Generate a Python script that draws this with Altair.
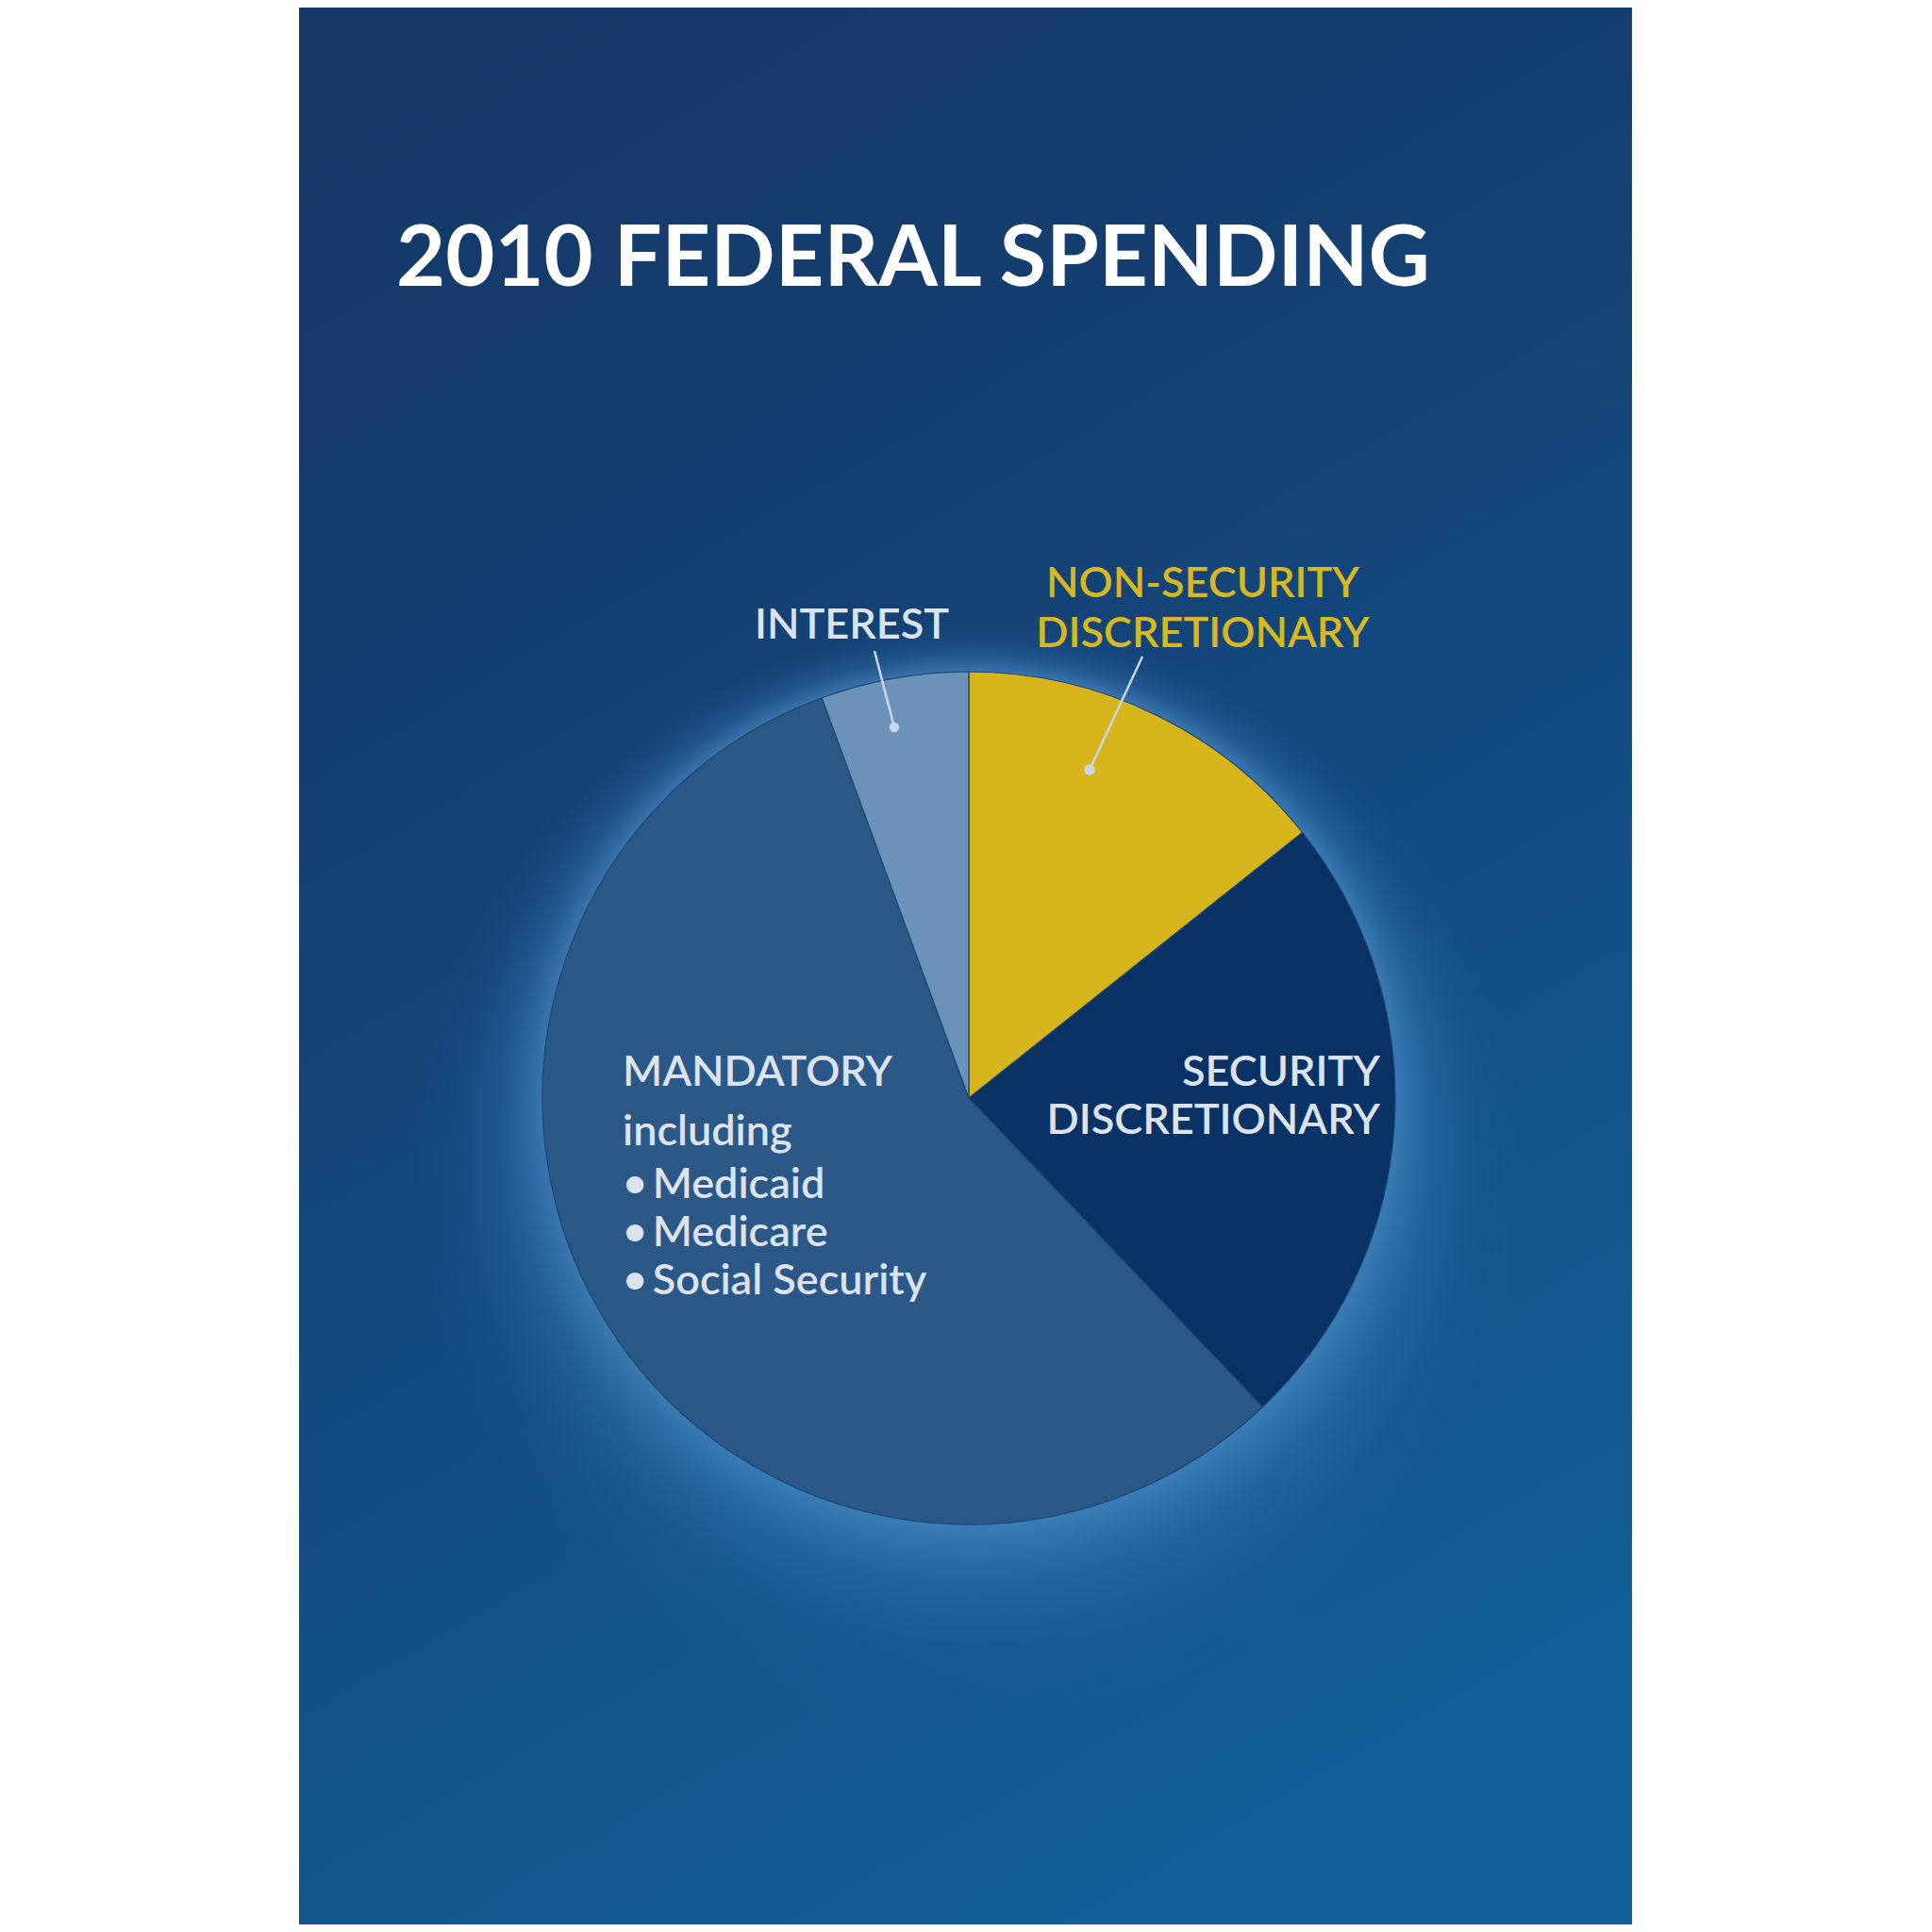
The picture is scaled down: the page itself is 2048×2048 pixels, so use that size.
import altair as alt
import pandas as pd

# ---- data ----
categories = ["NON-SECURITY DISCRETIONARY", "SECURITY DISCRETIONARY", "MANDATORY", "INTEREST"]
shares = [14.3, 23.6, 56.5, 5.6]
order_idx = [0, 1, 2, 3]
slice_colors = ["#D5B41C", "#0A3264", "#2B5887", "#6B93B9"]

title_text = "2010 FEDERAL SPENDING"
mandatory_lines = ["including", "\u2022\u2009Medicaid", "\u2022\u2009Medicare", "\u2022\u2009Social Security"]

df = pd.DataFrame({"category": categories, "share": shares, "ord": order_idx})

W, H = 2032, 2032
CX, CY, R = 1019, 1156, 452
FONT = "Lato"
LIGHT = "#DCE3EC"
GOLD = "#D8B822"

# background panel with gradient
panel = alt.Chart(pd.DataFrame({"a": [0]})).mark_rect(
    fill=alt.LinearGradient(
        gradient="linear",
        stops=[
            alt.GradientStop(offset=0, color="#143967"),
            alt.GradientStop(offset=0.3, color="#153F71"),
            alt.GradientStop(offset=0.6, color="#134C83"),
            alt.GradientStop(offset=1, color="#125E98"),
        ],
        x1=0.2, x2=0.6, y1=0, y2=1,
    )
).encode(x=alt.value(309), x2=alt.value(1722), y=alt.value(-8), y2=alt.value(2040))

# glow around pie: inner circle = pie, outer circle shifted down (thicker glow below)
RG, D = 590, 80
glow = alt.Chart(pd.DataFrame({"a": [0]})).mark_arc(
    theta=0, theta2=6.2832, outerRadius=RG,
    fill=alt.RadialGradient(
        gradient="radial",
        stops=[
            alt.GradientStop(offset=0, color="rgba(95,165,225,0.5)"),
            alt.GradientStop(offset=0.3, color="rgba(75,140,205,0.26)"),
            alt.GradientStop(offset=0.65, color="rgba(60,120,190,0.08)"),
            alt.GradientStop(offset=1, color="rgba(50,110,180,0)"),
        ],
        x1=0.5, y1=0.5 - D / (2 * RG), r1=R / (2 * RG),
        x2=0.5, y2=0.5, r2=0.5,
    )
).encode(x=alt.value(CX), y=alt.value(CY + D))

pie = alt.Chart(df).mark_arc(outerRadius=R, stroke="#1E4874", strokeWidth=1.2).encode(
    theta=alt.Theta("share:Q", stack=True),
    order=alt.Order("ord:Q"),
    color=alt.Color("category:N", scale=alt.Scale(domain=categories, range=slice_colors), legend=None),
    x=alt.value(CX), y=alt.value(CY),
)

def txt(text, x, y, size, color=LIGHT, align="left", weight=600):
    return alt.Chart(pd.DataFrame({"t": [text]})).mark_text(
        align=align, baseline="alphabetic", font=FONT, fontSize=size,
        fontWeight=weight, color=color,
    ).encode(text="t:N", x=alt.value(x), y=alt.value(y))

LS = 45
layers = [
    panel, glow, pie,
    txt(title_text, 412, 295, 90, color="#FFFFFF", weight="bold"),
    txt("INTEREST", 895, 669, LS, align="center"),
    txt("NON-SECURITY", 1267, 625, LS, color=GOLD, align="center"),
    txt("DISCRETIONARY", 1267, 678, LS, color=GOLD, align="center"),
    txt("MANDATORY", 652, 1143, LS),
    txt(mandatory_lines[0], 652, 1206, LS),
    txt(mandatory_lines[1], 652, 1262, LS),
    txt(mandatory_lines[2], 652, 1313, LS),
    txt(mandatory_lines[3], 652, 1364, LS),
    txt("SECURITY", 1455, 1143, LS, align="right"),
    txt("DISCRETIONARY", 1455, 1194, LS, align="right"),
]

rule_color = "#C9D6E5"
lines = [
    alt.Chart(pd.DataFrame({"a": [0]})).mark_rule(color=rule_color, strokeWidth=2.5).encode(
        x=alt.value(919), y=alt.value(682), x2=alt.value(940), y2=alt.value(763)),
    alt.Chart(pd.DataFrame({"a": [0]})).mark_rule(color=rule_color, strokeWidth=2.5).encode(
        x=alt.value(1203), y=alt.value(688), x2=alt.value(1147), y2=alt.value(808)),
    alt.Chart(pd.DataFrame({"a": [0]})).mark_circle(color=rule_color, opacity=1, size=110).encode(
        x=alt.value(940), y=alt.value(763)),
    alt.Chart(pd.DataFrame({"a": [0]})).mark_circle(color=rule_color, opacity=1, size=130).encode(
        x=alt.value(1147), y=alt.value(808)),
]

chart = alt.layer(*(layers + lines)).properties(
    width=W, height=H, padding=0, autosize=alt.AutoSizeParams(type="none"),
    background="#FFFFFF",
).configure_view(stroke=None)

chart.save("out.html", embed_options={"renderer": "svg", "actions": False})
